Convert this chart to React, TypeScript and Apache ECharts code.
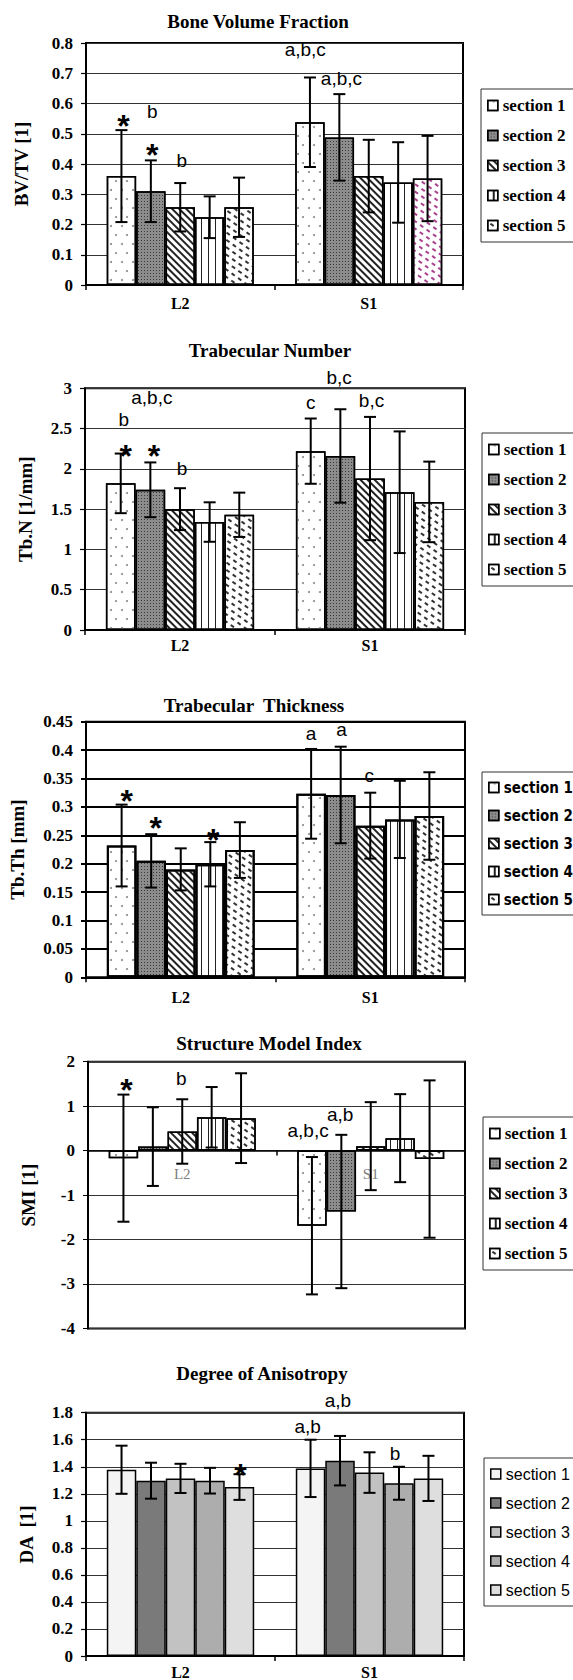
import React, { useEffect, useRef } from 'react';
import * as echarts from 'echarts';

// ---------------- DATA ----------------
const categories = ['L2', 'S1'];
const sections = ['section 1', 'section 2', 'section 3', 'section 4', 'section 5'];

// Bone Volume Fraction (BV/TV)
const bvtvL2 = [0.36, 0.31, 0.257, 0.224, 0.257];
const bvtvS1 = [0.538, 0.488, 0.36, 0.339, 0.352];
const bvtvL2Sd = [0.152, 0.102, 0.08, 0.069, 0.098];
const bvtvS1Sd = [0.148, 0.143, 0.12, 0.133, 0.141];
const bvtvAxis = [0, 0.8, 0.1];
// [category index, section position, y value, text]
const bvtvNotes: [number, number, number, string][] = [
  [0, 0.07, 0.552, '*'],
  [0, 1.05, 0.572, 'b'],
  [0, 1.05, 0.456, '*'],
  [0, 2.05, 0.413, 'b'],
  [1, -0.16, 0.777, 'a,b,c'],
  [1, 1.07, 0.684, 'a,b,c'],
];

// Trabecular Number (Tb.N)
const tbnL2 = [1.82, 1.74, 1.5, 1.34, 1.43];
const tbnS1 = [2.22, 2.16, 1.88, 1.71, 1.59];
const tbnL2Sd = [0.37, 0.34, 0.26, 0.245, 0.275];
const tbnS1Sd = [0.405, 0.58, 0.765, 0.755, 0.5];
const tbnAxis = [0, 3, 0.5];
const tbnNotes: [number, number, number, string][] = [
  [0, 0.1, 2.61, 'b'],
  [0, 0.17, 2.26, '*'],
  [0, 1.05, 2.89, 'a,b,c'],
  [0, 1.12, 2.26, '*'],
  [0, 2.07, 2.0, 'b'],
  [1, 0.0, 2.82, 'c'],
  [1, 0.96, 3.14, 'b,c'],
  [1, 2.05, 2.85, 'b,c'],
];

// Trabecular Thickness (Tb.Th)
const tbthL2 = [0.232, 0.205, 0.19, 0.199, 0.224];
const tbthS1 = [0.323, 0.321, 0.267, 0.278, 0.284];
const tbthL2Sd = [0.072, 0.047, 0.037, 0.039, 0.049];
const tbthS1Sd = [0.079, 0.085, 0.058, 0.068, 0.077];
const tbthAxis = [0, 0.45, 0.05];
const tbthNotes: [number, number, number, string][] = [
  [0, 0.17, 0.324, '*'],
  [0, 1.15, 0.277, '*'],
  [0, 3.1, 0.256, '*'],
  [1, 0.0, 0.43, 'a'],
  [1, 1.03, 0.436, 'a'],
  [1, 1.97, 0.356, 'c'],
];

// Structure Model Index (SMI)
const smiL2 = [-0.17, 0.09, 0.43, 0.75, 0.73];
const smiS1 = [-1.69, -1.37, 0.1, 0.28, -0.19];
const smiL2Sd = [1.43, 0.885, 0.725, 0.68, 1.01];
const smiS1Sd = [1.545, 1.725, 0.99, 0.99, 1.77];
const smiAxis = [-4, 2, 1];
const smiNotes: [number, number, number, string][] = [
  [0, 0.1, 1.54, '*'],
  [0, 1.97, 1.63, 'b'],
  [1, 0.96, 0.82, 'a,b'],
  [1, -0.13, 0.46, 'a,b,c'],
];

// Degree of Anisotropy (DA)
const daL2 = [1.378, 1.297, 1.314, 1.297, 1.25];
const daS1 = [1.388, 1.445, 1.357, 1.278, 1.314];
const daL2Sd = [0.178, 0.133, 0.108, 0.095, 0.095];
const daS1Sd = [0.212, 0.183, 0.15, 0.122, 0.167];
const daAxis = [0, 1.8, 0.2];
const daNotes: [number, number, number, string][] = [
  [0, 4.03, 1.397, '*'],
  [1, -0.1, 1.7, 'a,b'],
  [1, 0.93, 1.89, 'a,b'],
  [1, 2.87, 1.5, 'b'],
];

// ---------------- STYLE ----------------
const SERIF = '"Liberation Serif", "Times New Roman", serif';
const SANS = '"Liberation Sans", Arial, sans-serif';
const NARROW = '"Liberation Sans Narrow", "DejaVu Sans Condensed", "Liberation Sans", sans-serif';
const CAT_GAP = 0.22;

const patternStyles = [
  {
    color: '#ffffff',
    decal: {
      symbol: 'circle', symbolSize: 1, color: '#8a8a8a',
      dashArrayX: [[1.6, 8.4], [0, 5, 1.6, 3.4]], dashArrayY: [1.6, 6.4],
    },
  },
  {
    color: '#8c8c8c',
    decal: {
      symbol: 'rect', symbolSize: 1, color: 'rgba(30,30,30,0.75)',
      dashArrayX: [1, 2], dashArrayY: [1, 2],
    },
  },
  {
    color: '#ffffff',
    decal: {
      symbol: 'rect', symbolSize: 1, color: '#222',
      dashArrayX: [1, 0], dashArrayY: [1.3, 2.7], rotation: Math.PI / 4,
    },
  },
  {
    color: '#ffffff',
    decal: {
      symbol: 'rect', symbolSize: 1, color: '#222',
      dashArrayX: [1, 0], dashArrayY: [1.2, 4.6], rotation: Math.PI / 2,
    },
  },
  {
    color: '#ffffff',
    decal: {
      symbol: 'rect', symbolSize: 1, color: '#333',
      dashArrayX: [[3.5, 3.5], [0, 3.5, 3.5, 0]], dashArrayY: [1.3, 3.2], rotation: Math.PI / 5,
    },
  },
];
const pinkDecal = { ...patternStyles[4].decal, color: '#a8428c' };
const grayStyles = ['#f4f4f4', '#7a7a7a', '#c2c2c2', '#adadad', '#dedede'].map((c) => ({ color: c }));

type Panel = {
  title: string; yName: string;
  l2: number[]; s1: number[]; l2Sd: number[]; s1Sd: number[];
  axis: number[]; notes: [number, number, number, string][];
  top: number; height: number; gridTop: number; gridLeft: number; gridWidth: number; gridHeight: number;
  titleX: number; titleY: number; nameGap: number;
  legendLeft: number; legendTop: number; legendFont: string; legendSize: number; legendWeight: string;
  styles: any[]; gridLine: number; xMargin: number; smi?: boolean; pink?: boolean;
};

const PANELS: Panel[] = [
  {
    title: 'Bone Volume Fraction', yName: 'BV/TV [1]',
    l2: bvtvL2, s1: bvtvS1, l2Sd: bvtvL2Sd, s1Sd: bvtvS1Sd, axis: bvtvAxis, notes: bvtvNotes,
    top: 0, height: 330, gridTop: 43, gridLeft: 86, gridWidth: 377, gridHeight: 242,
    titleX: 258, titleY: 21, nameGap: 55,
    legendLeft: 481, legendTop: 89, legendFont: SERIF, legendSize: 17, legendWeight: 'bold',
    styles: patternStyles, gridLine: 1.2, xMargin: 10, pink: true,
  },
  {
    title: 'Trabecular Number', yName: 'Tb.N [1/mm]',
    l2: tbnL2, s1: tbnS1, l2Sd: tbnL2Sd, s1Sd: tbnS1Sd, axis: tbnAxis, notes: tbnNotes,
    top: 330, height: 350, gridTop: 58.3, gridLeft: 85, gridWidth: 380, gridHeight: 241.7,
    titleX: 270, titleY: 20, nameGap: 50,
    legendLeft: 482, legendTop: 103, legendFont: SERIF, legendSize: 17, legendWeight: 'bold',
    styles: patternStyles, gridLine: 1.2, xMargin: 7,
  },
  {
    title: 'Trabecular  Thickness', yName: 'Tb.Th [mm]',
    l2: tbthL2, s1: tbthS1, l2Sd: tbthL2Sd, s1Sd: tbthS1Sd, axis: tbthAxis, notes: tbthNotes,
    top: 680, height: 330, gridTop: 41.7, gridLeft: 86, gridWidth: 379, gridHeight: 255.6,
    titleX: 254, titleY: 25, nameGap: 59,
    legendLeft: 482, legendTop: 92, legendFont: NARROW, legendSize: 15, legendWeight: 'bold',
    styles: patternStyles, gridLine: 2, xMargin: 12,
  },
  {
    title: 'Structure Model Index', yName: 'SMI [1]',
    l2: smiL2, s1: smiS1, l2Sd: smiL2Sd, s1Sd: smiS1Sd, axis: smiAxis, notes: smiNotes,
    top: 1010, height: 335, gridTop: 51.7, gridLeft: 88, gridWidth: 377, gridHeight: 266.7,
    titleX: 269, titleY: 33, nameGap: 50,
    legendLeft: 483, legendTop: 107, legendFont: SERIF, legendSize: 17, legendWeight: 'bold',
    styles: patternStyles, gridLine: 1, xMargin: 16, smi: true,
  },
  {
    title: 'Degree of Anisotropy', yName: 'DA  [1]',
    l2: daL2, s1: daS1, l2Sd: daL2Sd, s1Sd: daS1Sd, axis: daAxis, notes: daNotes,
    top: 1345, height: 335, gridTop: 67.7, gridLeft: 86, gridWidth: 378, gridHeight: 246.7,
    titleX: 262, titleY: 28, nameGap: 50,
    legendLeft: 484, legendTop: 113, legendFont: SANS, legendSize: 16, legendWeight: 'normal',
    styles: grayStyles, gridLine: 1.2, xMargin: 8,
  },
];

function errRender(params: any, api: any) {
  const cat = api.value(0);
  const sec = api.value(1);
  const lo = api.coord([cat, api.value(2)]);
  const hi = api.coord([cat, api.value(3)]);
  const band = api.size([1, 0])[0];
  const w = (band * (1 - CAT_GAP)) / 5;
  const x = lo[0] + (sec - 2) * w;
  const cap = 6;
  const st = { stroke: '#000', lineWidth: 2 };
  return {
    type: 'group',
    children: [
      { type: 'line', shape: { x1: x, y1: hi[1], x2: x, y2: lo[1] }, style: st },
      { type: 'line', shape: { x1: x - cap, y1: hi[1], x2: x + cap, y2: hi[1] }, style: st },
      { type: 'line', shape: { x1: x - cap, y1: lo[1], x2: x + cap, y2: lo[1] }, style: st },
    ],
  };
}

function makeNoteRender(notes: [number, number, number, string][]) {
  return (params: any, api: any) => {
    const note = notes[params.dataIndex];
    const cat = api.value(0);
    const sec = api.value(1);
    const p = api.coord([cat, api.value(2)]);
    const band = api.size([1, 0])[0];
    const w = (band * (1 - CAT_GAP)) / 5;
    const x = p[0] + (sec - 2) * w;
    const star = note[3] === '*';
    return {
      type: 'text',
      x,
      y: p[1] + (star ? 8 : 0),
      style: {
        text: note[3],
        font: star ? `bold 32px ${SANS}` : `19px ${SANS}`,
        fill: '#000',
        textAlign: 'center', align: 'center',
        textVerticalAlign: 'middle', verticalAlign: 'middle',
      },
    };
  };
}

function buildOption(p: Panel) {
  const bars = sections.map((name, i) => ({
    type: 'bar',
    name,
    data: [
      p.l2[i],
      p.pink && i === 4 ? { value: p.s1[i], itemStyle: { decal: pinkDecal } } : p.s1[i],
    ],
    barGap: '0%',
    barCategoryGap: '22%',
    itemStyle: { ...p.styles[i], borderColor: '#000', borderWidth: p.gridLine >= 2 ? 2 : 1.5 },
    emphasis: { disabled: true },
    silent: true,
  }));
  const errData: number[][] = [];
  sections.forEach((_, i) => {
    errData.push([0, i, p.l2[i] - p.l2Sd[i], p.l2[i] + p.l2Sd[i]]);
    errData.push([1, i, p.s1[i] - p.s1Sd[i], p.s1[i] + p.s1Sd[i]]);
  });
  // category axis crossing the value axis at zero (SMI panel)
  const zeroOffset = p.smi ? -p.gridHeight * (0 - p.axis[0]) / (p.axis[1] - p.axis[0]) : 0;
  return {
    animation: false,
    backgroundColor: '#ffffff',
    graphic: [
      {
        type: 'text', x: p.titleX, y: p.titleY,
        style: {
          text: p.title, font: `bold 19px ${SERIF}`, fill: '#000',
          textAlign: 'center', align: 'center', textVerticalAlign: 'middle', verticalAlign: 'middle',
        },
      },
    ],
    legend: {
      data: sections,
      orient: 'vertical',
      left: p.legendLeft,
      top: p.legendTop,
      itemWidth: 10,
      itemHeight: 10,
      itemGap: 13,
      icon: 'rect',
      padding: [8, 40, 8, 6],
      borderColor: '#333',
      borderWidth: 1,
      selectedMode: false,
      textStyle: { fontFamily: p.legendFont, fontSize: p.legendSize, fontWeight: p.legendWeight, color: '#000' },
      itemStyle: { borderColor: '#000', borderWidth: 1.5 },
    },
    grid: {
      left: p.gridLeft, top: p.gridTop, width: p.gridWidth, height: p.gridHeight,
      show: true, borderColor: '#000', borderWidth: 2,
    },
    xAxis: {
      type: 'category',
      data: categories,
      offset: zeroOffset,
      axisLine: { show: true, onZero: false, lineStyle: { color: '#000', width: p.smi ? 1.5 : 2 } },
      axisTick: { show: true, length: 5, lineStyle: { color: '#000', width: 1.5 } },
      axisLabel: p.smi
        ? { fontFamily: SERIF, fontSize: 15, color: '#808080', margin: p.xMargin }
        : { fontFamily: SERIF, fontSize: 16, fontWeight: 'bold', color: '#000', margin: p.xMargin },
      splitLine: { show: false },
    },
    yAxis: {
      type: 'value',
      min: p.axis[0],
      max: p.axis[1],
      interval: p.axis[2],
      name: p.yName,
      nameLocation: 'middle',
      nameRotate: 90,
      nameGap: p.nameGap,
      nameTextStyle: { fontFamily: SERIF, fontSize: 19, fontWeight: 'bold', color: '#000' },
      axisLine: { show: true, lineStyle: { color: '#000', width: 2 } },
      axisTick: { show: true, inside: false, length: 5, lineStyle: { color: '#000', width: p.gridLine } },
      axisLabel: { fontFamily: SERIF, fontSize: 17, fontWeight: 'bold', color: '#000', margin: 13 },
      splitLine: { show: true, lineStyle: { color: p.gridLine >= 2 ? '#000' : '#333', width: p.gridLine } },
    },
    series: [
      ...bars,
      {
        type: 'custom',
        renderItem: errRender,
        data: errData,
        encode: { x: 0, y: [2, 3] },
        z: 5,
        silent: true,
      },
      {
        type: 'custom',
        renderItem: makeNoteRender(p.notes),
        data: p.notes.map((n) => [n[0], n[1], n[2]]),
        encode: { x: 0, y: 2 },
        z: 6,
        clip: false,
        silent: true,
      },
    ],
  };
}

function PanelChart({ cfg }: { cfg: Panel }) {
  const ref = useRef<HTMLDivElement>(null);
  useEffect(() => {
    if (!ref.current) return;
    const chart = echarts.init(ref.current, null, { renderer: 'svg' });
    chart.setOption(buildOption(cfg) as any);
    return () => chart.dispose();
  }, [cfg]);
  return (
    <div
      ref={ref}
      style={{ position: 'absolute', left: 0, top: cfg.top, width: 573, height: cfg.height }}
    />
  );
}

export default function App() {
  return (
    <div
      style={{
        position: 'absolute', left: 0, top: 0, width: 573, height: 1680,
        background: '#ffffff', overflow: 'hidden',
      }}
    >
      {PANELS.map((p, i) => (
        <PanelChart key={i} cfg={p} />
      ))}
    </div>
  );
}
